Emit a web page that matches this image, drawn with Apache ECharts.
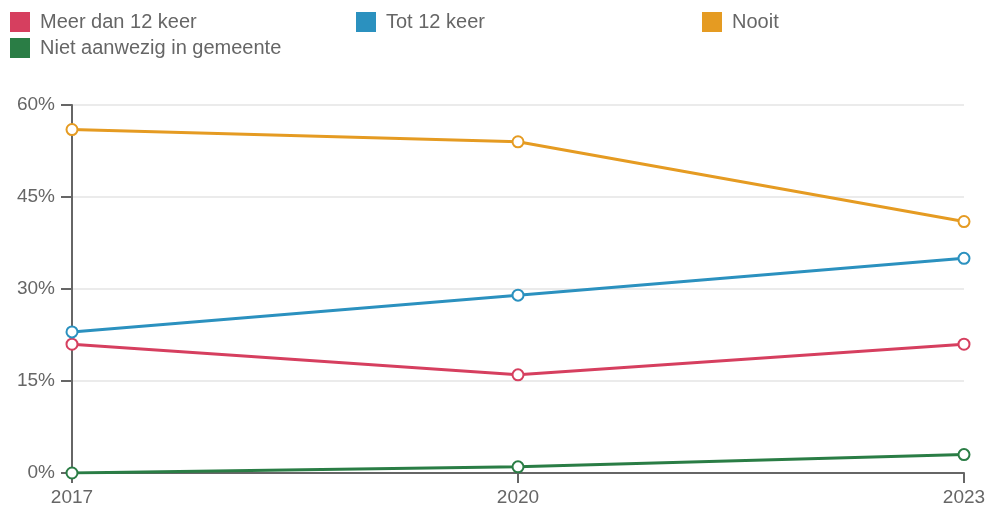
<!DOCTYPE html>
<html><head><meta charset="utf-8">
<script src="https://cdn.jsdelivr.net/npm/echarts@6/dist/echarts.min.js"></script>
<style>html,body{margin:0;padding:0;background:#fff}#c{width:991px;height:509px}</style>
</head><body><div id="c"></div>
<script>
const years = ['2017', '2020', '2023'];
const seriesNames = ['Meer dan 12 keer', 'Tot 12 keer', 'Nooit', 'Niet aanwezig in gemeente'];
const meerDan12 = [21, 16, 21];
const tot12 = [23, 29, 35];
const nooit = [56, 54, 41];
const nietAanwezig = [0, 1, 3];
const yTicks = [0, 15, 30, 45, 60];

const colors = ['#d63f5f', '#2b91bf', '#e59b22', '#2a7d45'];
const values = [meerDan12, tot12, nooit, nietAanwezig];
const legendPos = [[10, 12], [356, 12], [702, 12], [10, 38]];
const font = 'Liberation Sans, Arial, sans-serif';

const chart = echarts.init(document.getElementById('c'));
chart.setOption({
  animation: false,
  color: colors,
  legend: seriesNames.map((n, i) => ({
    data: [n], left: legendPos[i][0], top: legendPos[i][1], padding: 0,
    icon: 'rect', itemWidth: 20, itemHeight: 20, itemGap: 10,
    itemStyle: { color: colors[i], borderWidth: 0 },
    textStyle: { fontSize: 20, color: '#666', fontFamily: font, padding: [0, 0, 0, 5] }
  })),
  grid: { left: 72, right: 27, top: 105, bottom: 36 },
  xAxis: {
    type: 'category', data: years, boundaryGap: false,
    axisLine: { show: true, lineStyle: { color: '#666', width: 2 } },
    axisTick: { show: true, alignWithLabel: true, length: 10, lineStyle: { color: '#666', width: 2 } },
    axisLabel: { color: '#666', fontSize: 19, fontFamily: font, margin: 15 },
    splitLine: { show: false }
  },
  yAxis: {
    type: 'value', min: 0, max: 60, interval: 15,
    axisLine: { show: true, lineStyle: { color: '#666', width: 2 } },
    axisTick: { show: true, length: 11, lineStyle: { color: '#666', width: 2 } },
    axisLabel: { color: '#666', fontSize: 19, fontFamily: font, margin: 17, formatter: v => yTicks.includes(v) ? v + '%' : '' },
    splitLine: { show: true, lineStyle: { color: '#ebebeb', width: 2 } }
  },
  series: seriesNames.map((n, i) => ({
    name: n, type: 'line', data: values[i],
    symbol: 'circle', symbolSize: 11,
    itemStyle: { color: '#fff', borderColor: colors[i], borderWidth: 2 },
    lineStyle: { color: colors[i], width: 3 },
    emphasis: { disabled: true }
  }))
});
</script></body></html>
